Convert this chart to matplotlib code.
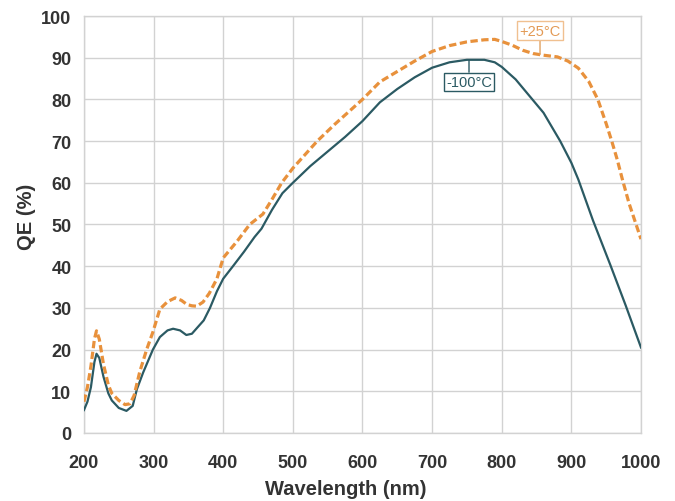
import matplotlib
matplotlib.use("Agg")
import matplotlib.pyplot as plt

# Quantum efficiency curves of the sensor at two operating temperatures
wl_cold = [200, 205, 210, 215, 218, 222, 228, 235, 240, 250, 261, 270, 276, 285,
           299, 309, 320, 328, 338, 347, 355, 364, 372, 381, 391, 400, 414, 430,
           445, 455, 470, 485, 500, 525, 550, 575, 600, 625, 650, 675, 700, 725,
           750, 775, 790, 800, 820, 843, 860, 884, 900, 910, 931, 956, 978, 1000]
qe_cold = [5.5, 7.5, 11.0, 17.0, 19.0, 18.0, 13.5, 9.5, 7.8, 6.0, 5.3, 6.5, 10.5, 14.5,
           20.0, 23.0, 24.6, 25.0, 24.6, 23.5, 23.8, 25.5, 27.0, 30.0, 34.0, 37.0, 40.0, 43.5,
           47.0, 49.0, 53.5, 57.5, 60.0, 64.0, 67.5, 71.0, 74.8, 79.3, 82.5, 85.3, 87.6, 88.9,
           89.5, 89.5, 88.9, 87.8, 84.8, 80.2, 76.8, 70.0, 64.8, 60.8, 51.0, 40.3, 30.6, 20.5]

wl_warm = [200, 205, 210, 215, 218, 222, 228, 235, 240, 250, 259, 266, 272, 280,
           290, 299, 309, 320, 331, 340, 348, 355, 362, 371, 380, 391, 400, 420,
           438, 457, 470, 484, 500, 535, 560, 600, 625, 650, 675, 700, 725, 750,
           775, 790, 800, 815, 830, 845, 860, 880, 895, 910, 925, 938, 950, 958,
           966, 973, 983, 992, 1000]
qe_warm = [7.5, 11.0, 16.0, 22.5, 24.5, 22.5, 16.5, 11.5, 9.5, 7.8, 6.8, 7.0, 9.0, 14.6,
           20.0, 24.2, 29.7, 31.5, 32.4, 31.8, 30.8, 30.5, 30.4, 31.4, 33.5, 37.0, 42.0, 46.0,
           50.0, 52.5, 56.0, 60.0, 63.5, 70.0, 74.0, 80.0, 84.2, 86.7, 89.2, 91.5, 92.9, 93.8,
           94.3, 94.4, 93.9, 93.0, 91.8, 91.0, 90.6, 90.2, 89.2, 87.5, 84.3, 80.0, 74.2, 70.0,
           65.5, 61.0, 55.0, 50.5, 46.5]

label_cold = "-100°C"
label_warm = "+25°C"
x_ticks = [200, 300, 400, 500, 600, 700, 800, 900, 1000]
y_ticks = [0, 10, 20, 30, 40, 50, 60, 70, 80, 90, 100]

teal = "#2b5a63"
orange = "#e8913c"
grid_c = "#d2d2d2"
text_c = "#333333"

plt.rcParams["font.family"] = ["Liberation Sans", "DejaVu Sans"]

fig = plt.figure(figsize=(6.75, 5.02), dpi=100)
ax = fig.add_axes([0.1244, 0.1355, 0.8252, 0.8306])

ax.plot(wl_cold, qe_cold, color=teal, lw=1.6, zorder=3)
ax.plot(wl_warm, qe_warm, color=orange, lw=2.3, linestyle=(0, (2.3, 1.1)), zorder=4)

ax.set_xlim(200, 1000)
ax.set_ylim(0, 100)
ax.set_xticks(x_ticks)
ax.set_yticks(y_ticks)
ax.grid(True, color=grid_c, lw=1.0)
ax.set_axisbelow(True)
for s in ax.spines.values():
    s.set_color(grid_c)
    s.set_linewidth(1.0)
ax.tick_params(length=0, labelsize=13, labelcolor=text_c)
ax.tick_params(axis="x", pad=15)
ax.tick_params(axis="y", pad=9)
for lab in ax.get_xticklabels() + ax.get_yticklabels():
    lab.set_fontweight("bold")

ax.set_xlabel("Wavelength (nm)", fontsize=14.5, fontweight="bold", color=text_c, va="center")
ax.xaxis.set_label_coords(0.470, -0.134)
ax.set_ylabel("QE (%)", fontsize=14.5, fontweight="bold", color=text_c, va="center")
ax.yaxis.set_label_coords(-0.104, 0.52)

# curve labels with leader lines
ax.annotate(label_warm, xy=(855, 90.8), xytext=(855, 96.5), ha="center", va="center",
            fontsize=10.5, color="#e39a55",
            bbox=dict(boxstyle="square,pad=0.15", fc="white", ec="#f0c090", lw=1.0),
            arrowprops=dict(arrowstyle="-", color="#e0a060", lw=1.0, shrinkA=0, shrinkB=0),
            zorder=6)
ax.annotate(label_cold, xy=(753, 89.5), xytext=(753, 84.2), ha="center", va="center",
            fontsize=10.5, color=teal,
            bbox=dict(boxstyle="square,pad=0.15", fc="white", ec=teal, lw=1.0),
            arrowprops=dict(arrowstyle="-", color=teal, lw=1.0, shrinkA=0, shrinkB=0),
            zorder=6)

fig.savefig("out.png", dpi=100)
